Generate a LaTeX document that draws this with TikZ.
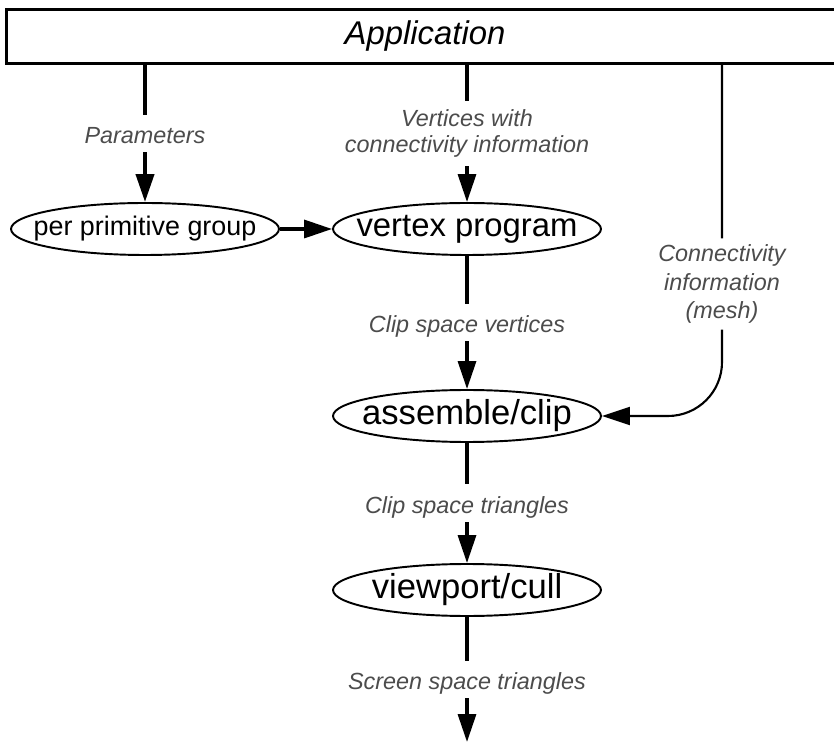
\documentclass[tikz,border=0pt]{standalone}
\usepackage{fontspec}
\setmainfont{Liberation Sans}
\usetikzlibrary{arrows.meta,shapes.geometric}

\begin{document}
\begin{tikzpicture}[x=0.02cm,y=-0.02cm,line width=1.9pt,
  flow/.style={-{Triangle[length=0.56cm,width=0.36cm]}},
  stage/.style={ellipse,draw,line width=1.1pt,minimum width=5.36cm,minimum height=1.04cm,inner sep=0pt},
  lbl/.style={fill=white,inner xsep=2pt,inner ysep=1.7pt,text=black!70,font=\fontsize{13.3pt}{14.8pt}\selectfont\itshape},
  oneline/.style={text height=14.7pt,text depth=3.1pt}]
\useasboundingbox (0,0) rectangle (834,742);
\clip (0,0) rectangle (834,742);

% top bar, runs on past the right edge
\node[draw,line width=1.8pt,minimum width=16.76cm,minimum height=1.08cm,inner sep=0pt,
  font=\fontsize{18.7pt}{20pt}\selectfont\itshape] (app) at (425,36.5) {Application};

% pipeline stages
\node[stage,font=\fontsize{15.3pt}{17pt}\selectfont] (pgp) at (145,229) {\makebox[0pt]{per primitive group}};
\node[stage,font=\fontsize{18.7pt}{20pt}\selectfont] (vp) at (467,229) {\makebox[0pt]{vertex program}};
\node[stage,font=\fontsize{19.7pt}{21pt}\selectfont] (ac) at (467,416) {\makebox[0pt]{assemble/clip}};
\node[stage,font=\fontsize{19.7pt}{21pt}\selectfont] (vc) at (467,590) {\makebox[0pt]{viewport/cull}};
\coordinate (mesh) at (722,0);
\coordinate (out) at (467,742);

\draw[flow,line width=2.3pt] (app.south -| pgp) -- node[lbl,oneline] {Parameters} (pgp);
\draw[flow] (app.south -| vp) -- node[lbl,align=center,inner ysep=5.1pt] {Vertices with\\connectivity information} (vp);
\draw[flow] (pgp) -- (vp);
\draw[flow] (vp) -- node[lbl,oneline] {Clip space vertices} (ac);
\draw[flow] (ac) -- node[lbl,oneline] {Clip space triangles} (vc);
\draw[flow] (vc) -- node[lbl,oneline] {Screen space triangles} (out);

% mesh connectivity goes straight to assembly
\draw[flow,line width=1.2pt,rounded corners=1.08cm] (app.south -| mesh) |-
  node[lbl,pos=0.312,align=center,inner ysep=3.4pt,font=\fontsize{13.3pt}{16.4pt}\selectfont\itshape]
  {Connectivity\\information\\(mesh)} (ac.east);
\end{tikzpicture}
\end{document}
